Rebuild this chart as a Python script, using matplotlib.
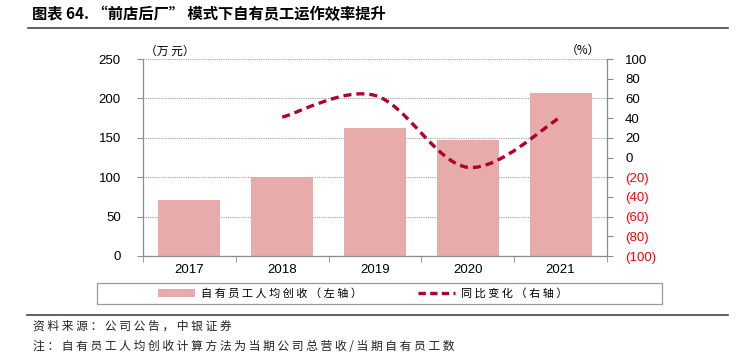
import matplotlib
matplotlib.use("Agg")
import matplotlib.pyplot as plt
from matplotlib.path import Path
from matplotlib.patches import PathPatch, Rectangle
from matplotlib.lines import Line2D
import numpy as np

plt.rcParams['font.family'] = ['Liberation Sans', 'Noto Sans CJK SC', 'DejaVu Sans']

years = ['2017', '2018', '2019', '2020', '2021']
revenue = [71, 100, 163, 147, 207]          # 万元, left axis
yoy_years_idx = [1, 2, 3, 4]
yoy = [41, 63, -10, 41]                     # %, right axis
left_ticks = [0, 50, 100, 150, 200, 250]
right_ticks = [-100, -80, -60, -40, -20, 0, 20, 40, 60, 80, 100]

bar_color = '#E8ABAB'
line_color = '#B0002B'
spine_color = '#8C8C8C'


def spaced(s):
    return ' '.join(list(s))


W, H = 738, 354
fig = plt.figure(figsize=(W / 100, H / 100), dpi=100)
ax = fig.add_axes([143 / W, (H - 256) / H, (607 - 143) / W, (256 - 59) / H])
x = np.arange(len(years))
ax.bar(x, revenue, width=0.67, color=bar_color, zorder=2)
ax.set_xlim(-0.5, len(years) - 0.5)
ax.set_ylim(0, 250)
ax.set_yticks(left_ticks)
ax.set_yticklabels([str(t) for t in left_ticks])
ax.set_xticks(x)
ax.set_xticklabels(years)
ax.set_xticks(np.arange(len(years) + 1) - 0.5, minor=True)
ax.tick_params(axis='x', which='major', length=0, labelsize=9.5, pad=6)
ax.tick_params(axis='x', which='minor', length=4, color=spine_color, direction='out')
ax.tick_params(axis='y', length=4, color=spine_color, labelsize=9.5, pad=12)
ax.set_axisbelow(True)
ax.yaxis.grid(True, color='#A0A0A0', linestyle=(0, (1, 1)), linewidth=0.8)
for s in ['top', 'right']:
    ax.spines[s].set_visible(False)
for s in ['left', 'bottom']:
    ax.spines[s].set_color(spine_color)
    ax.spines[s].set_linewidth(0.9)

ax2 = ax.twinx()
ax2.set_ylim(-100, 100)
ax2.set_yticks(right_ticks)
ax2.set_yticklabels([str(t) if t >= 0 else '(%d)' % (-t) for t in right_ticks])
for t, lab in zip(right_ticks, ax2.get_yticklabels()):
    lab.set_color('red' if t < 0 else 'black')
ax2.tick_params(axis='y', length=4, color=spine_color, labelsize=9.5, pad=9)
for s in ['top', 'left', 'bottom']:
    ax2.spines[s].set_visible(False)
ax2.spines['right'].set_color(spine_color)
ax2.spines['right'].set_linewidth(0.9)

# smoothed line (Catmull-Rom style Bezier, like Excel smooth lines)
px = np.array(yoy_years_idx, dtype=float)
py = np.array(yoy, dtype=float)
pts = np.column_stack([px, py])
n = len(pts)
verts = [tuple(pts[0])]
codes = [Path.MOVETO]
for i in range(n - 1):
    p0 = pts[i - 1] if i > 0 else pts[i]
    p1 = pts[i]
    p2 = pts[i + 1]
    p3 = pts[i + 2] if i + 2 < n else pts[i + 1]
    c1 = p1 + (p2 - p0) / 6.0
    c2 = p2 - (p3 - p1) / 6.0
    verts += [tuple(c1), tuple(c2), tuple(p2)]
    codes += [Path.CURVE4] * 3
patch = PathPatch(Path(verts, codes), facecolor='none', edgecolor=line_color,
                  linewidth=2.4, linestyle=(0, (2.4, 1.5)), zorder=5)
ax2.add_patch(patch)

# unit labels
fig.text(145 / W, 1 - 51 / H, '（万 元）', fontsize=8.5, ha='left', va='center',
         family=['Noto Sans CJK SC'])
fig.text(583 / W, 1 - 50 / H, '（%）', fontsize=8.5, ha='center', va='center',
         family=['Noto Sans CJK SC'])

# legend
fig.patches.append(Rectangle((97 / W, 1 - 304 / H), (662 - 97) / W, 21 / H,
                             transform=fig.transFigure, facecolor='white',
                             edgecolor='#999999', linewidth=0.9))
handles = [Rectangle((0, 0), 1, 1, facecolor=bar_color, edgecolor='none'),
           Line2D([], [], color=line_color, linewidth=2.4, linestyle=(0, (2.2, 1.3)))]
labels = [spaced('自有员工人均创收（左轴）'), spaced('同比变化（右轴）')]
fig.legend(handles, labels, loc='center', bbox_to_anchor=(363 / W, 1 - 293.5 / H),
           ncol=2, frameon=False, handlelength=3.3, handleheight=0.7,
           handletextpad=0.6, columnspacing=5.0, prop={'family': ['Noto Sans CJK SC'], 'size': 8})

# title and rules
fig.text(32 / W, 1 - 14 / H, '图表 64. “前店后厂” 模式下自有员工运作效率提升',
         fontsize=11, fontweight='bold', ha='left', va='center',
         family=['Noto Sans CJK SC'])
fig.add_artist(Line2D([28 / W, 728 / W], [1 - 28 / H, 1 - 28 / H], color='#444444',
                      linewidth=1.2, transform=fig.transFigure))
fig.add_artist(Line2D([27 / W, 728 / W], [1 - 315 / H, 1 - 315 / H], color='#444444',
                      linewidth=1.2, transform=fig.transFigure))
fig.text(33 / W, 1 - 326 / H, spaced('资料来源：公司公告，中银证券'), fontsize=8.5,
         ha='left', va='center', family=['Noto Sans CJK SC'], color='#222222', style='italic')
fig.text(33 / W, 1 - 346 / H, spaced('注：自有员工人均创收计算方法为当期公司总营收/当期自有员工数'), fontsize=8.5,
         ha='left', va='center', family=['Noto Sans CJK SC'], color='#222222', style='italic')

fig.savefig('out.png', dpi=100)
